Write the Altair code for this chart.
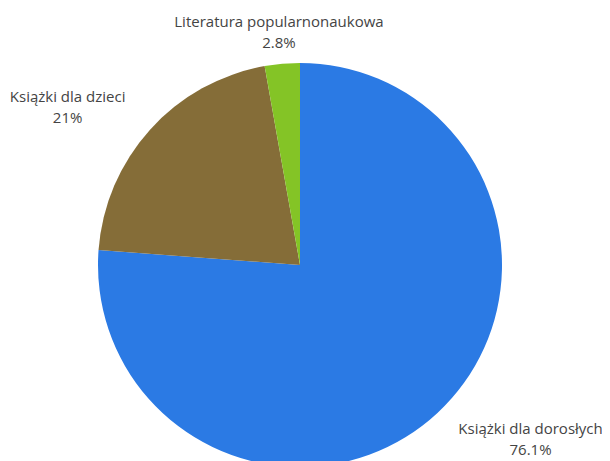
import altair as alt
import pandas as pd

categories = ["Książki dla dorosłych", "Książki dla dzieci", "Literatura popularnonaukowa"]
values = [76.1, 21, 2.8]
colors = ["#2b7ae4", "#856d38", "#84c426"]

labels = [f"{c}\n{v:g}%" for c, v in zip(categories, values)]
df = pd.DataFrame({"category": categories, "value": values, "label": labels,
                   "idx": list(range(len(categories)))})

arc = alt.Chart(df).mark_arc(outerRadius=202).encode(
    theta=alt.Theta("value:Q", stack=True),
    color=alt.Color("category:N", scale=alt.Scale(domain=categories, range=colors), legend=None),
    order=alt.Order("idx:Q"),
)

# per-label placement (radius, dx)
placement = {0: (230, 74), 1: (243, -52), 2: (239, 0)}

texts = []
for i in range(len(categories)):
    r, dx = placement[i]
    t = (
        alt.Chart(df)
        .transform_window(cum="sum(value)", sort=[alt.SortField("idx")])
        .transform_calculate(mid="datum.cum - datum.value / 2")
        .transform_filter(alt.datum.idx == i)
        .mark_text(radius=r, dx=dx, align="center", baseline="alphabetic",
                   lineBreak="\n", lineHeight=21, font="Open Sans", fontSize=15,
                   color="#444444")
        .encode(theta=alt.Theta("mid:Q", stack=False), text="label:N")
    )
    texts.append(t)

chart = (
    alt.layer(arc, *texts)
    .properties(width=584, height=392,
                padding={"left": 0, "top": 61, "right": 10, "bottom": 0},
                autosize=alt.AutoSizeParams(type="none"),
                background="#ffffff")
    .configure_view(strokeWidth=0)
)

chart.save("out.html", embed_options={"renderer": "svg", "actions": False})
